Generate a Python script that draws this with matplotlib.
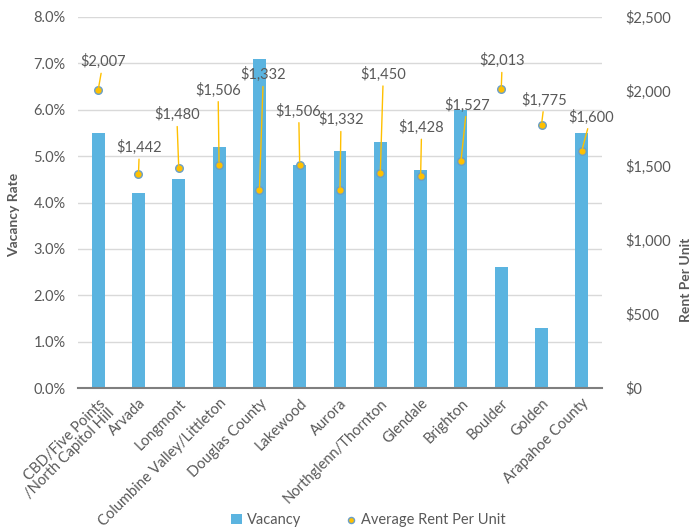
import matplotlib.pyplot as plt
import numpy as np
from matplotlib.ticker import FuncFormatter

areas = ['CBD/Five Points\n/North Capitol Hill', 'Arvada', 'Longmont', 'Columbine Valley/Littleton',
         'Douglas County', 'Lakewood', 'Aurora', 'Northglenn/Thornton', 'Glendale', 'Brighton',
         'Boulder', 'Golden', 'Arapahoe County']
vacancy = [5.5, 4.2, 4.5, 5.2, 7.1, 4.8, 5.1, 5.3, 4.7, 6.0, 2.6, 1.3, 5.5]
rent = [2007, 1442, 1480, 1506, 1332, 1506, 1332, 1450, 1428, 1527, 2013, 1775, 1600]

# label offsets in pixels (dx, dy up) to label bottom
label_offsets = [(5, 21), (1, 19), (-2, 46), (-1, 67), (4, 108), (-1, 46), (1, 63),
                 (3, 91), (1, 41), (6, 49), (1, 21), (3, 17), (9, 26)]

plt.rcParams['font.family'] = ['Lato', 'DejaVu Sans']
gray = '#595959'
bar_color = '#5BB4E0'
dot_color = '#FFC000'

fig = plt.figure(figsize=(6.92, 5.32), dpi=100)
ax = fig.add_axes([78 / 692, 1 - 388 / 532, (602 - 78) / 692, (388 - 17) / 532])
ax2 = ax.twinx()

x = np.arange(len(areas))
ax.bar(x, vacancy, width=0.32, color=bar_color, zorder=2, label='Vacancy')
ax.set_ylim(0, 8)
ax.set_yticks(np.arange(0, 8.1, 1))
ax.yaxis.set_major_formatter(FuncFormatter(lambda v, p: f'{v:.1f}%'))
ax.grid(axis='y', color='#D9D9D9', linewidth=1, zorder=0)
ax.set_axisbelow(True)
ax.set_xlim(-0.5, len(areas) - 0.5)

ax2.scatter(x, rent, s=30, color=dot_color, edgecolor='#6A9FC8', linewidth=1, zorder=3,
            label='Average Rent Per Unit')
ax2.set_ylim(0, 2500)
ax2.set_yticks(np.arange(0, 2501, 500))
ax2.yaxis.set_major_formatter(FuncFormatter(lambda v, p: f'${v:,.0f}'))

for i, (r, off) in enumerate(zip(rent, label_offsets)):
    ax2.annotate(f'${r:,}', xy=(i, r), xytext=off, textcoords='offset pixels',
                 ha='center', va='bottom', fontsize=10.5, color=gray,
                 arrowprops=dict(arrowstyle='-', color=dot_color, lw=1, shrinkA=1, shrinkB=2))

for a in (ax, ax2):
    for s in ['top', 'left', 'right']:
        a.spines[s].set_visible(False)
    a.tick_params(axis='y', length=0, labelsize=10.5, labelcolor=gray)
ax.spines['bottom'].set_color('#7F7F7F')
ax.spines['bottom'].set_linewidth(1.5)
ax2.spines['bottom'].set_visible(False)
ax.tick_params(axis='y', pad=9)
ax2.tick_params(axis='y', pad=17)

ax.set_xticks(x)
ax.set_xticklabels(areas, rotation=45, ha='right', rotation_mode='anchor', fontsize=10.5, color=gray)
ax.tick_params(axis='x', length=0, pad=6)
for t in ax.get_xticklabels()[:1]:
    t.set_linespacing(0.9)

fig.text(14 / 692, 1 - 215 / 532, 'Vacancy Rate', rotation=90, ha='center', va='center',
         fontsize=10, fontweight='bold', color=gray)
fig.text(686 / 692, 1 - 280 / 532, 'Rent Per Unit', rotation=90, ha='center', va='center',
         fontsize=10, fontweight='bold', color=gray)

h1, l1 = ax.get_legend_handles_labels()
h2, l2 = ax2.get_legend_handles_labels()
fig.legend(h1 + h2, l1 + l2, loc='center', bbox_to_anchor=(368 / 692, 1 - 520 / 532), ncol=2,
           frameon=False, fontsize=10.5, labelcolor=gray, handlelength=0.8, handletextpad=0.3,
           columnspacing=3, markerscale=0.8)

fig.savefig('out.png', dpi=100)
